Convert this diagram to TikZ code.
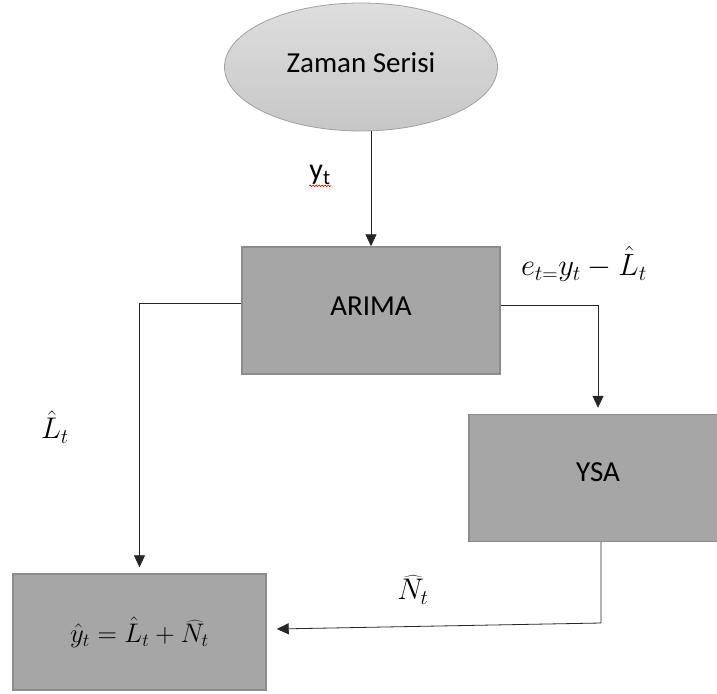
\documentclass[tikz,border=0pt]{standalone}
\usepackage{graphicx}
\usepackage{fontspec}
\setmainfont{Carlito}
\usetikzlibrary{arrows.meta,shapes.geometric,decorations.pathmorphing}
\definecolor{boxfill}{HTML}{A6A6A6}
\definecolor{boxline}{HTML}{8C8C8C}
\definecolor{ellline}{HTML}{A0A0A0}
\begin{document}
\begin{tikzpicture}[x=1pt,y=-1pt,
  box/.style={rectangle,draw=boxline,line width=1.4pt,fill=boxfill,
    minimum width=258pt,minimum height=127pt,inner sep=0pt,font=\fontsize{29}{34}\selectfont},
  resbox/.style={rectangle,draw=boxline,line width=1.4pt,fill=boxfill,
    minimum width=253pt,minimum height=116pt,inner sep=0pt,font=\fontsize{25}{30}\selectfont},
  conn/.style={draw=black!85,line width=0.8pt},
  arr/.style={conn,-{Triangle[length=12pt,width=11pt]}},
  lbl/.style={inner sep=0pt,font=\fontsize{25}{30}\selectfont}]
\useasboundingbox (0,0) rectangle (717,693);
\node[ellipse,draw=ellline,line width=0.8pt,top color=black!13,bottom color=black!22,
  minimum width=273pt,minimum height=128pt,inner sep=0pt,font=\fontsize{29}{34}\selectfont]
  (ell) at (361,67) {\raisebox{9pt}{Zaman Serisi}};
\node[box] (arima) at (371,310.5) {\raisebox{8pt}{ARIMA}};
\node[box] (ysa) at (598,478) {\raisebox{12pt}{YSA}};
\node[resbox] (res) at (139.5,632) {\raisebox{3pt}{\scalebox{1.08}{$\hat{y}_t=\hat{L}_t+\widehat{N}_t$}}};
% connectors
\draw[arr] (arima.north |- ell.south) -- (arima.north);
\draw[arr,shorten >=6pt] ([yshift=7.5pt]arima.west) -| (res.north);
\draw[arr,shorten >=6pt] ([yshift=5.5pt]arima.east) -| (ysa.north);
\coordinate (bend) at (601,623);
\draw[arr] (ysa.south -| bend) -- (bend) -- ([xshift=10pt,yshift=3pt]res.east);
% labels
\node[lbl,font=\fontsize{30}{35}\selectfont] (yt) at (320,175) {y\textsubscript{t}};
\draw[red,line width=0.6pt,decorate,decoration={snake,amplitude=0.8pt,segment length=3pt}]
  ([yshift=-1pt]yt.south west) -- ([yshift=-1pt]yt.south east);
\node[lbl] (et) at (584,264) {\scalebox{1.23}{$e_{t=}y_t-\hat{L}_t$}};
\node[lbl] (lt) at (55,427) {\scalebox{1.2}{$\hat{L}_t$}};
\node[lbl] (nt) at (413,590) {\scalebox{1.2}{$\widehat{N}_t$}};
\end{tikzpicture}
\end{document}
